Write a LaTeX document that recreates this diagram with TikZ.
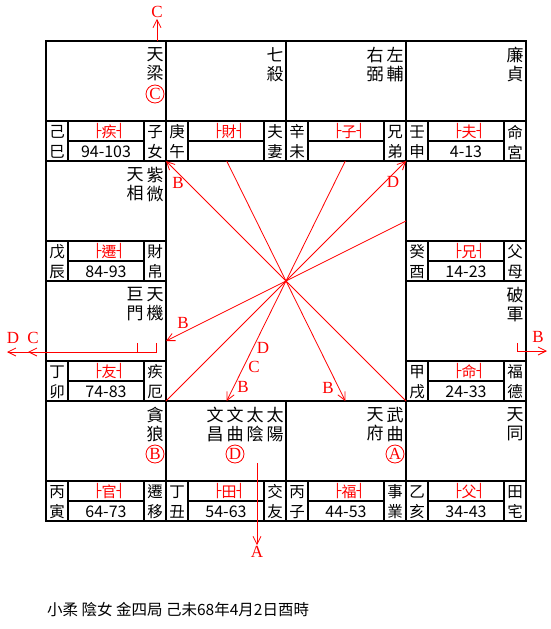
\documentclass[tikz,border=0pt]{standalone}
\usepackage{fontspec}
\setmainfont{Liberation Serif}
\newfontfamily\cjk{Noto Sans CJK TC}
\newfontfamily\boxfont{DejaVu Sans Mono}
\usetikzlibrary{arrows.meta}
\newcommand\gongname[1]{\raisebox{1.6pt}{\boxfont\fontsize{13}{13}\selectfont ├}#1\raisebox{1.6pt}{\boxfont\fontsize{13}{13}\selectfont ┤}}

\begin{document}
\begin{tikzpicture}[x=1pt,y=-1pt,
  cellline/.style={line width=2.8pt},
  stars/.style={font=\cjk\fontsize{17}{19}\selectfont,align=center,inner sep=0pt},
  side/.style={font=\cjk\fontsize{15.5}{20}\selectfont,align=center,inner sep=0pt},
  gong/.style={red,font=\cjk\fontsize{15}{15}\selectfont,inner sep=0pt},
  agerange/.style={font=\cjk\fontsize{16}{16}\selectfont,inner sep=0pt},
  hua/.style={circle,draw=red,red,line width=0.8pt,minimum size=18pt,inner sep=0pt,font=\fontsize{17}{17}\selectfont},
  lbl/.style={red,font=\fontsize{17}{17}\selectfont,inner sep=1pt},
  fly/.style={red,line width=0.8pt},
  >={Straight Barb[length=8pt,width=8pt]}]
  \useasboundingbox (0,0) rectangle (551,629);
  \foreach \x/\y/\n/\gz/\gg/\age/\nm in {
      46/41/si/己\\巳/疾/94-103/子\\女, 166/41/wu/庚\\午/財//夫\\妻,
      286/41/wei/辛\\未/子//兄\\弟, 406/41/shen/壬\\申/夫/4-13/命\\宮,
      46/161/chen/戊\\辰/遷/84-93/財\\帛, 406/161/you/癸\\酉/兄/14-23/父\\母,
      46/281/mao/丁\\卯/友/74-83/疾\\厄, 406/281/xu/甲\\戌/命/24-33/福\\德,
      46/401/yin/丙\\寅/官/64-73/遷\\移, 166/401/chou/丁\\丑/田/54-63/交\\友,
      286/401/zi/丙\\子/福/44-53/事\\業, 406/401/hai/乙\\亥/父/34-43/田\\宅} {
    \draw[cellline] (\x,\y) rectangle (\x+120,\y+120);
    \draw[cellline] (\x,\y+80) -- (\x+120,\y+80);
    \draw[cellline] (\x+22,\y+80) -- (\x+22,\y+120);
    \draw[cellline] (\x+98,\y+80) -- (\x+98,\y+120);
    \draw[cellline] (\x+22,\y+100) -- (\x+98,\y+100);
    \node[side] (\n-gz) at (\x+11,\y+101) {\gz};
    \node[gong] (\n-gong) at (\x+63,\y+90.5) {\gongname{\gg}};
    \node[agerange] (\n-age) at (\x+60,\y+110.5) {\age};
    \node[side] (\n-nm) at (\x+109,\y+101) {\nm};
  }
  \node[stars] (si-s1) at (155,64.5) {天\\梁};
  \node[hua] (si-hua) at (155,94) {C};
  \node[stars] (wu-s1) at (275,64.5) {七\\殺};
  \node[stars] (wei-s1) at (395,64.5) {左\\輔};
  \node[stars] (wei-s2) at (375,64.5) {右\\弼};
  \node[stars] (shen-s1) at (515,64.5) {廉\\貞};
  \node[stars] (chen-s1) at (155,184.5) {紫\\微};
  \node[stars] (chen-s2) at (135,184.5) {天\\相};
  \node[stars] (mao-s1) at (155,304.5) {天\\機};
  \node[stars] (mao-s2) at (135,304.5) {巨\\門};
  \node[stars] (xu-s1) at (515,304.5) {破\\軍};
  \node[stars] (yin-s1) at (155,424.5) {貪\\狼};
  \node[hua] (yin-hua) at (155,454) {B};
  \node[stars] (chou-s1) at (275,424.5) {太\\陽};
  \node[stars] (chou-s2) at (255,424.5) {太\\陰};
  \node[stars] (chou-s3) at (235,424.5) {文\\曲};
  \node[stars] (chou-s4) at (215,424.5) {文\\昌};
  \node[hua] (chou-hua) at (235,454) {D};
  \node[stars] (zi-s1) at (395,424.5) {武\\曲};
  \node[stars] (zi-s2) at (375,424.5) {天\\府};
  \node[hua] (zi-hua) at (395,454) {A};
  \node[stars] (hai-s1) at (515,424.5) {天\\同};

  \coordinate (ctr) at (286,281);
  \coordinate (tl) at (166,161);
  \coordinate (tr) at (406,161);
  \coordinate (bl) at (166,401);
  \coordinate (br) at (406,401);
  \coordinate (tA) at (226.7,161);
  \coordinate (tB) at (345.3,161);
  \coordinate (rA) at (406,221);
  \coordinate (lA) at (166,341);
  \coordinate (bA) at (226.7,401);
  \coordinate (bB) at (345.3,401);
  \draw[fly,->] (ctr) -- (tl);
  \draw[fly,->] (ctr) -- (tr);
  \draw[fly,->] (ctr) -- (lA);
  \draw[fly,->] (ctr) -- (bA);
  \draw[fly,->] (ctr) -- (bB);
  \draw[fly] (ctr) -- (bl);
  \draw[fly] (ctr) -- (br);
  \draw[fly] (ctr) -- (tA);
  \draw[fly] (ctr) -- (tB);
  \draw[fly] (ctr) -- (rA);
  \node[lbl] (tl-B) at (178,183) {B};
  \node[lbl] (tr-D) at (393,182) {D};
  \node[lbl] (lA-B) at (183,323) {B};
  \node[lbl] (bA-D) at (263,348) {D};
  \node[lbl] (bA-C) at (254,367) {C};
  \node[lbl] (bA-B) at (243,387) {B};
  \node[lbl] (bB-B) at (328,388) {B};

  \coordinate (cS) at (157,41);
  \node[lbl] (topC) at (157,12) {C};
  \draw[fly,->] (cS) -- (topC.south);
  \coordinate (aS) at (257,463);
  \node[lbl] (botA) at (257,552) {A};
  \draw[fly,->] (aS) -- (botA.north);
  \coordinate (lC0) at (137,343);
  \coordinate (lCtip) at (28,352);
  \coordinate (lD0) at (156,343);
  \coordinate (lDtip) at (7,352);
  \node[lbl] (leftD) at (13,338) {D};
  \node[lbl] (leftC) at (33,338) {C};
  \draw[fly,->] (lC0) |- (lCtip);
  \draw[fly,->] (lD0) |- (lDtip);
  \coordinate (rB0) at (517,343);
  \coordinate (rBtip) at (547,351);
  \node[lbl] (rightB) at (538,337) {B};
  \draw[fly,->] (rB0) |- (rBtip);

  \node[anchor=west,font=\cjk\fontsize{15.5}{15.5}\selectfont,inner sep=0pt] (caption) at (47,610) {小柔 陰女 金四局 己未68年4月2日酉時};
\end{tikzpicture}
\end{document}
